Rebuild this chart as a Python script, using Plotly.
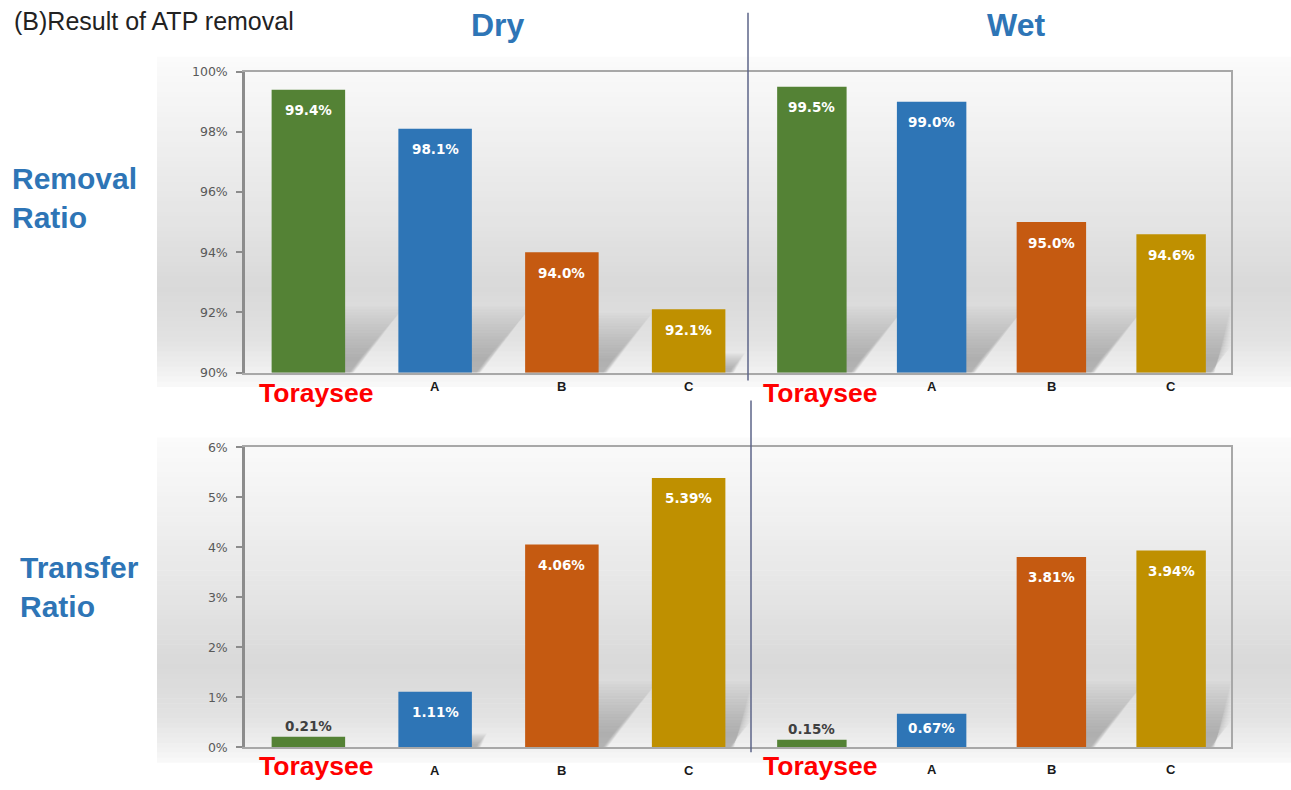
import plotly.graph_objects as go

# ---------------- data ----------------
categories = ["Toraysee", "A", "B", "C"]
dry_removal = [99.4, 98.1, 94.0, 92.1]
wet_removal = [99.5, 99.0, 95.0, 94.6]
dry_transfer = [0.21, 1.11, 4.06, 5.39]
wet_transfer = [0.15, 0.67, 3.81, 3.94]
bar_colors = ["#548235", "#2e75b6", "#c55a11", "#bf9000"]
removal_ticks = [90, 92, 94, 96, 98, 100]
transfer_ticks = [0, 1, 2, 3, 4, 5, 6]
column_titles = ["Dry", "Wet"]
row_titles = ["Removal<br>Ratio", "Transfer<br>Ratio"]
main_title = "(B)Result of ATP removal"

# ---------------- layout helpers (target picture pixels -> paper) ----------------
W, H = 1291, 790
# vertical mapping measured between page pixels and the photographed picture
SY, OY = 0.9815, 7.3
def fx(px):
    return px / W
def fy(py):
    page = (py - OY) / SY
    return 1 - page / H

X_LEFT = (245, 752)
X_RIGHT = (752, 1231)
Y_TOP = (71, 372)
Y_BOT = (447, 747)
BAR_W = 0.58

BLUE = "#2e75b6"
FONT = "Liberation Sans, Arial, sans-serif"
TICKFONT = "DejaVu Sans, Verdana, sans-serif"

panels = [
    # axis suffix, values, x px, y px, range, ticks, label format, category label centres
    ("", dry_removal, X_LEFT, Y_TOP, (90, 100), removal_ticks, "{:.1f}%", (392, 386)),
    ("2", wet_removal, X_RIGHT, Y_TOP, (90, 100), removal_ticks, "{:.1f}%", (392, 386)),
    ("3", dry_transfer, X_LEFT, Y_BOT, (0, 6), transfer_ticks, "{:.2f}%", (766, 770)),
    ("4", wet_transfer, X_RIGHT, Y_BOT, (0, 6), transfer_ticks, "{:.2f}%", (766, 769)),
]

fig = go.Figure()
annotations = []
shapes = []

# ---------------- gradient backgrounds ----------------
stops = [(0.0, 251), (0.2, 242), (0.5, 228), (0.7, 217), (0.85, 225), (0.95, 240), (1.0, 250)]
def gray_at(t):
    for (t0, g0), (t1, g1) in zip(stops[:-1], stops[1:]):
        if t0 <= t <= t1:
            return g0 + (g1 - g0) * (t - t0) / (t1 - t0)
    return stops[-1][1]

for (y0, y1) in [(56, 386), (437, 762)]:
    n = 66
    step = (y1 - y0) / n
    for i in range(n):
        g = int(round(gray_at((i + 0.5) / n)))
        shapes.append(dict(type="rect", xref="paper", yref="paper", layer="below",
                           x0=fx(157), x1=1, y0=fy(y0 + (i + 1) * step + 0.5), y1=fy(y0 + i * step),
                           line=dict(width=0), fillcolor=f"rgb({g},{g},{g})"))

# ---------------- bars, axes, labels ----------------
for suf, vals, xpx, ypx, rng, ticks, fmt, (big_y, small_y) in panels:
    xa = "x" + suf
    ya = "y" + suf
    fig.add_trace(go.Bar(x=categories, y=vals, marker=dict(color=bar_colors, line=dict(width=0)),
                         width=BAR_W, xaxis=xa, yaxis=ya, showlegend=False, hoverinfo="x+y"))
    left = xpx == X_LEFT
    xkey = "xaxis" + suf
    ykey = "yaxis" + suf
    fig.layout[xkey] = dict(domain=[fx(xpx[0]), fx(xpx[1])], anchor=ya, type="category",
                            categoryorder="array", categoryarray=categories,
                            showticklabels=False, ticks="", showgrid=False,
                            showline=True, mirror=True, linecolor="#a8a8a8", linewidth=1.5,
                            zeroline=False, fixedrange=True)
    yd = dict(domain=[fy(ypx[1]), fy(ypx[0])], anchor=xa, range=list(rng),
              tickvals=ticks, ticktext=[f"{t}%" for t in ticks],
              showgrid=False, zeroline=False, fixedrange=True)
    if left:
        yd.update(showticklabels=True, ticks="outside", ticklen=6, tickcolor="#8c8c8c",
                  tickwidth=1.5, showline=True, linecolor="#8c8c8c", linewidth=2.5,
                  ticklabelstandoff=6,
                  tickfont=dict(family=TICKFONT, size=12.5, color="#595959"))
    else:
        yd.update(showticklabels=False, ticks="", side="right", showline=True,
                  linecolor="#a8a8a8", linewidth=1.5)
    fig.layout[ykey] = yd

    plot_h = ypx[1] - ypx[0]
    cat_px = (xpx[1] - xpx[0]) / len(categories)
    for i, (cat, v) in enumerate(zip(categories, vals)):
        ph = (v - rng[0]) / (rng[1] - rng[0]) * plot_h
        # soft perspective shadow behind each bar (decoration), layered to look blurred
        dy = min(66.0, max(0.0, (ph - 35) * 0.7))
        if dy > 0:
            xl = xpx[0] + (i + 0.5 - BAR_W / 2) * cat_px
            xr = xpx[0] + (i + 0.5 + BAR_W / 2) * cat_px
            yb = ypx[1]
            nl = 18
            for k in range(nl):
                shrink = 1.0 - k * 0.045
                ddy = dy * shrink
                ddx = ddy * 0.85
                pts = [(xl, yb), (min(xr + 3 + 6 * shrink, xpx[1]), yb),
                       (min(xr + ddx + 3, xpx[1]), yb - ddy), (min(xl + ddx, xpx[1]), yb - ddy)]
                path = "M " + " L ".join(f"{fx(px):.5f},{fy(py):.5f}" for px, py in pts) + " Z"
                shapes.append(dict(type="path", xref="paper", yref="paper", layer="below",
                                   path=path, line=dict(width=0),
                                   fillcolor="rgba(70,70,70,0.024)"))
        if ph < 20:
            annotations.append(dict(x=cat, y=v, xref=xa, yref=ya, text=fmt.format(v),
                                    showarrow=False, yanchor="bottom", yshift=1,
                                    font=dict(family=TICKFONT, size=13.5, color="#404040", weight="bold")))
        else:
            annotations.append(dict(x=cat, y=v, xref=xa, yref=ya, text=fmt.format(v),
                                    showarrow=False, yanchor="middle", yshift=-min(20.5, ph * 0.42),
                                    font=dict(family=TICKFONT, size=13.5, color="white", weight="bold")))
        # category labels below each bar
        if i == 0:
            annotations.append(dict(x=cat, y=fy(big_y), xref=xa, yref="paper", text=cat,
                                    showarrow=False, yanchor="middle", xshift=8,
                                    font=dict(family=FONT, size=26.5, color="#ff0000", weight="bold")))
        else:
            annotations.append(dict(x=cat, y=fy(small_y), xref=xa, yref="paper", text=cat,
                                    showarrow=False, yanchor="middle",
                                    font=dict(family=FONT, size=13, color="#1a1a1a", weight="bold")))

# ---------------- titles ----------------
annotations.append(dict(x=fx(12), y=1, xref="paper", yref="paper", text=main_title,
                        showarrow=False, xanchor="left", yanchor="top", yshift=3,
                        font=dict(family=FONT, size=25, color="#222222")))
for title, cx in zip(column_titles, [498, 1016]):
    annotations.append(dict(x=fx(cx), y=fy(24), xref="paper", yref="paper", text=title,
                            showarrow=False, xanchor="center", yanchor="middle",
                            font=dict(family=FONT, size=32, color=BLUE, weight="bold")))
for title, lx, cy in zip(row_titles, [10, 18], [197, 587]):
    annotations.append(dict(x=fx(lx), y=fy(cy), xref="paper", yref="paper", text=title,
                            showarrow=False, xanchor="left", yanchor="middle", align="left",
                            font=dict(family=FONT, size=30, color=BLUE, weight="bold")))

# ---------------- divider lines ----------------
shapes.append(dict(type="line", xref="paper", yref="paper", x0=fx(748), x1=fx(748),
                   y0=fy(12), y1=fy(380), line=dict(color="#5d6488", width=1.5)))
shapes.append(dict(type="line", xref="paper", yref="paper", x0=fx(751), x1=fx(751),
                   y0=fy(400), y1=fy(752), line=dict(color="#5d6488", width=1.5)))

fig.update_layout(width=W, height=H, margin=dict(l=0, r=0, t=0, b=0),
                  paper_bgcolor="white", plot_bgcolor="rgba(0,0,0,0)",
                  annotations=annotations, shapes=shapes,
                  font=dict(family=FONT))

fig.write_html("out.html", config={"displayModeBar": False},
               post_script="document.body.style.margin='0';document.body.style.overflow='hidden';")
